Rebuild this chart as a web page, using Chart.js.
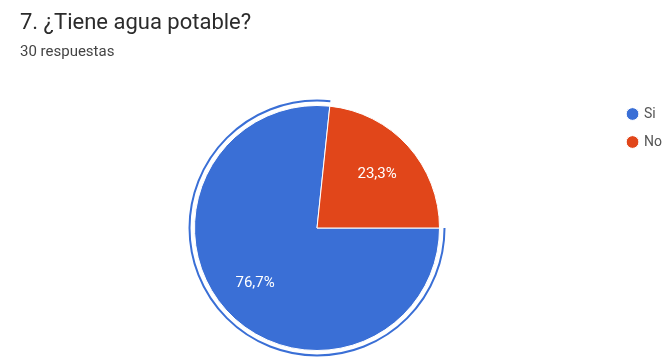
<!DOCTYPE html>
<html>
<head>
<meta charset="utf-8">
<script src="https://cdn.jsdelivr.net/npm/chart.js@4/dist/chart.umd.min.js"></script>
<style>
  html, body { margin: 0; padding: 0; background: #fff; }
  #wrap { position: relative; width: 672px; height: 358px; }
</style>
</head>
<body>
<div id="wrap"><canvas id="pie"></canvas></div>
<script>
// answers to question 7
const categories = ['Si', 'No'];
const responses = [23, 7];
const totalResponses = 30;
const sliceColors = ['#3a6fd6', '#e1461a'];

const fmtPct = v => (v / totalResponses * 100).toFixed(1).replace('.', ',') + '%';

// percentage text inside each slice
const sliceLabels = {
  id: 'sliceLabels',
  afterDatasetsDraw(chart, args, opts) {
    const ctx = chart.ctx;
    const meta = chart.getDatasetMeta(0);
    ctx.save();
    ctx.font = '15px Roboto, Arial, sans-serif';
    ctx.fillStyle = '#ffffff';
    ctx.textAlign = 'center';
    ctx.textBaseline = 'middle';
    meta.data.forEach((arc, i) => {
      const p = arc.getProps(['x', 'y', 'startAngle', 'endAngle', 'outerRadius']);
      const mid = (p.startAngle + p.endAngle) / 2;
      const r = p.outerRadius * opts.radius[i];
      ctx.fillText(fmtPct(responses[i]), p.x + Math.cos(mid) * r, p.y + Math.sin(mid) * r);
    });
    ctx.restore();
  }
};

// highlight ring around the first slice
const sliceRing = {
  id: 'sliceRing',
  afterDatasetsDraw(chart, args, opts) {
    const arc = chart.getDatasetMeta(0).data[opts.index];
    const p = arc.getProps(['x', 'y', 'startAngle', 'endAngle', 'outerRadius']);
    const ctx = chart.ctx;
    ctx.save();
    ctx.strokeStyle = sliceColors[opts.index];
    ctx.lineWidth = 2;
    ctx.beginPath();
    ctx.arc(p.x, p.y, p.outerRadius + opts.gap, p.startAngle, p.endAngle);
    ctx.stroke();
    ctx.restore();
  }
};

// lift the legend a bit above the pie's top edge
const legendLift = {
  id: 'legendLift',
  afterLayout(chart, args, opts) {
    const lg = chart.legend;
    const dy = opts.top - lg.top;
    lg.top += dy;
    lg.bottom += dy;
  }
};

new Chart(document.getElementById('pie'), {
  type: 'pie',
  data: {
    labels: categories,
    datasets: [{
      data: responses,
      backgroundColor: sliceColors,
      borderColor: '#ffffff',
      borderWidth: 1
    }]
  },
  plugins: [sliceLabels, sliceRing, legendLift],
  options: {
    responsive: true,
    maintainAspectRatio: false,
    animation: false,
    rotation: 90,
    layout: { padding: { left: 20, right: 0, top: 0, bottom: 7 } },
    plugins: {
      title: {
        display: true,
        text: '7. ¿Tiene agua potable?',
        align: 'start',
        color: '#2b2b2b',
        font: { family: 'Roboto, Arial, sans-serif', size: 22, weight: 'normal' },
        padding: { top: 10, bottom: 4 }
      },
      subtitle: {
        display: true,
        text: totalResponses + ' respuestas',
        align: 'start',
        color: '#444444',
        font: { family: 'Roboto, Arial, sans-serif', size: 15 },
        padding: { top: 3, bottom: 43.6 }
      },
      legend: {
        position: 'right',
        align: 'start',
        fullSize: false,
        labels: {
          usePointStyle: true,
          pointStyle: 'circle',
          boxWidth: 9,
          boxHeight: 9,
          padding: 14,
          color: '#555555',
          font: { family: 'Roboto, Arial, sans-serif', size: 14 }
        }
      },
      tooltip: { enabled: false },
      sliceLabels: { radius: [0.68, 0.66] },
      sliceRing: { index: 0, gap: 5 },
      legendLift: { top: 93 }
    }
  }
});
</script>
</body>
</html>
